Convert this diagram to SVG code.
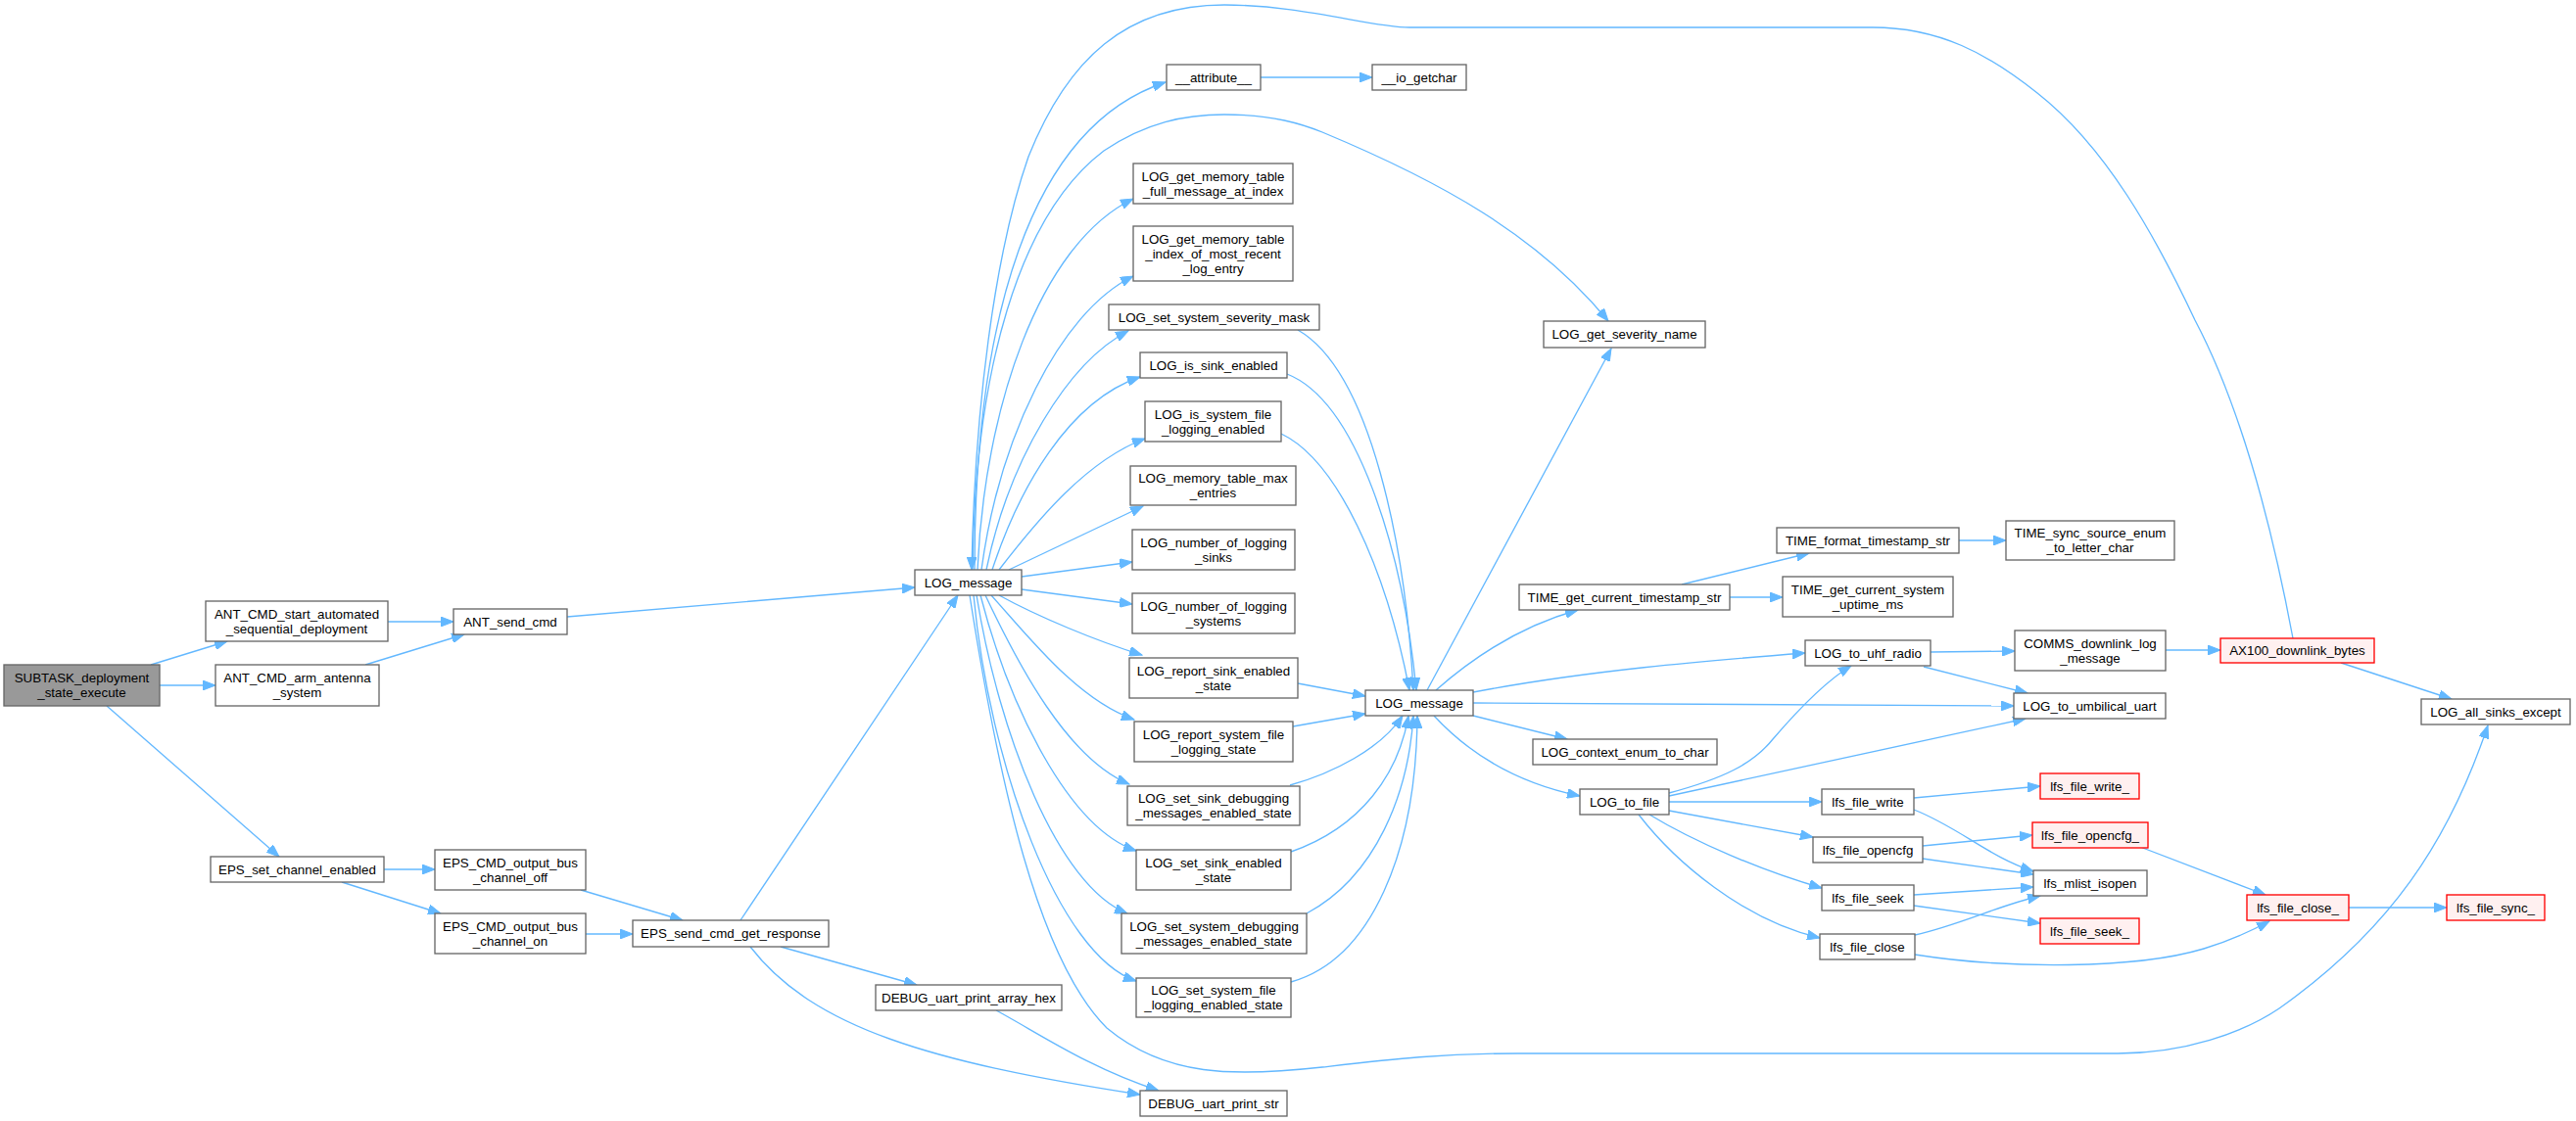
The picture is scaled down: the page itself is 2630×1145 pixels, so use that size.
<svg xmlns="http://www.w3.org/2000/svg" width="2630" height="1145" viewBox="0 0 2630 1145">
<defs>
<style>
.n rect{fill:#ffffff;stroke:#666666;stroke-width:1.33}
.root rect{fill:#999999;stroke:#666666;stroke-width:1.33}
.red rect{fill:#fff0f0;stroke:#ff0000;stroke-width:1.33}
text{font-family:"Liberation Sans",Arial,Helvetica,sans-serif;font-size:13.33px;fill:#000000;text-anchor:middle}
.e path{fill:none;stroke:#63b8ff;stroke-width:1.33;marker-end:url(#ah)}
</style>
<marker id="ah" markerWidth="14" markerHeight="10" refX="13" refY="5" orient="auto" markerUnits="userSpaceOnUse">
<path d="M0,0 L13,5 L0,10 z" fill="#63b8ff" stroke="#63b8ff" stroke-width="1"/>
</marker>
</defs>
<rect x="0" y="0" width="2630" height="1145" fill="#ffffff"/>
<g id="edges" class="e">
<path d="M154,679 L232,655"/>
<path d="M163,700 L220,700"/>
<path d="M109,721 L285,875"/>
<path d="M396,635 L463,635"/>
<path d="M373,679 L474,648"/>
<path d="M579,630 L934,600"/>
<path d="M392,888 L444,888"/>
<path d="M349,901 L450,933"/>
<path d="M593,909 L697,940"/>
<path d="M598,954 L646,954"/>
<path d="M756,940 L978,608"/>
<path d="M797,967 L936,1006"/>
<path d="M766,967 C830,1050 950,1085 1164,1118"/>
<path d="M1017,1032 C1060,1055 1110,1090 1183,1114"/>
<path d="M2341,652 C2320,540 2290,420 2241,327 C2200,240 2150,150 2080,95 C2030,55 1980,28 1912,28 L1439,28 C1400,28 1330,5 1250,5 C1150,5 1090,60 1050,160 C1015,260 995,420 992,582"/>
<path d="M993,582 C995,380 1040,220 1127,154 C1170,125 1210,117 1250,117 C1300,117 1330,127 1350,135 C1470,185 1570,240 1642,328"/>
<path d="M995,582 C995,330 1050,130 1190,84"/>
<path d="M998,582 C1005,420 1060,250 1157,203"/>
<path d="M1002,582 C1020,450 1080,320 1157,282"/>
<path d="M1007,582 C1030,470 1090,370 1152,338"/>
<path d="M1013,582 C1040,500 1090,410 1164,385"/>
<path d="M1020,582 C1060,530 1110,470 1169,448"/>
<path d="M1030,582 L1167,517"/>
<path d="M1043,589 L1156,574"/>
<path d="M1043,602 L1156,617"/>
<path d="M1020,608 C1060,630 1120,655 1166,669"/>
<path d="M1012,608 C1050,650 1100,715 1158,735"/>
<path d="M1006,608 C1040,680 1090,775 1153,801"/>
<path d="M1001,608 C1030,720 1090,845 1160,869"/>
<path d="M997,608 C1020,750 1080,905 1151,933"/>
<path d="M994,608 C1010,780 1080,975 1160,1002"/>
<path d="M990,608 C1020,800 1060,980 1130,1050 C1190,1100 1260,1100 1350,1090 C1420,1082 1470,1076 1550,1076 L2162,1076 C2230,1076 2290,1055 2327,1030 C2440,950 2500,860 2540,741"/>
<path d="M1325,698 L1394,711"/>
<path d="M1320,742 L1394,729"/>
<path d="M1317,802 C1360,790 1410,765 1432,731"/>
<path d="M1318,870 C1390,845 1428,790 1438,731"/>
<path d="M1334,933 C1405,895 1438,810 1443,731"/>
<path d="M1318,1003 C1400,980 1446,870 1447,731"/>
<path d="M1325,337 C1400,380 1435,560 1443,705"/>
<path d="M1314,382 C1385,410 1432,560 1446,705"/>
<path d="M1308,443 C1365,470 1415,580 1439,705"/>
<path d="M1287,79 L1401,79"/>
<path d="M1457,705 L1645,356"/>
<path d="M1466,705 C1500,675 1550,640 1611,623"/>
<path d="M1504,707 C1620,685 1740,675 1843,667"/>
<path d="M1504,718 L2056,721"/>
<path d="M1504,731 L1600,755"/>
<path d="M1464,731 C1500,770 1550,800 1613,813"/>
<path d="M1717,597 L1847,565"/>
<path d="M1766,610 L1820,610"/>
<path d="M2000,552 L2048,552"/>
<path d="M1971,666 L2057,665"/>
<path d="M1964,681 L2070,708"/>
<path d="M1704,810 C1760,795 1790,780 1810,755 C1840,720 1865,695 1890,680"/>
<path d="M1704,813 L2068,734"/>
<path d="M1704,819 L1860,819"/>
<path d="M1704,828 L1851,855"/>
<path d="M1684,832 C1730,860 1800,890 1860,907"/>
<path d="M1673,832 C1710,880 1780,940 1858,958"/>
<path d="M1954,815 L2083,803"/>
<path d="M1954,827 C2000,845 2030,875 2076,890"/>
<path d="M1963,864 L2075,853"/>
<path d="M1963,877 L2076,893"/>
<path d="M1954,914 L2076,906"/>
<path d="M1954,925 L2083,943"/>
<path d="M1955,955 C2000,945 2040,925 2083,915"/>
<path d="M1955,975 C2050,990 2180,990 2250,969 C2280,960 2300,950 2317,941"/>
<path d="M2185,865 L2313,914"/>
<path d="M2398,927 L2498,927"/>
<path d="M2211,664 L2267,664"/>
<path d="M2390,677 L2503,714"/>
</g>
<g id="n_subtask" class="root"><rect x="4" y="679" width="159" height="42"/><text x="83.5" y="697">SUBTASK_deployment</text><text x="83.5" y="712">_state_execute</text></g>
<g id="n_ant_start" class="n"><rect x="210" y="614" width="186" height="41"/><text x="303" y="631.5">ANT_CMD_start_automated</text><text x="303" y="646.5">_sequential_deployment</text></g>
<g id="n_ant_arm" class="n"><rect x="220" y="679" width="167" height="42"/><text x="303.5" y="697">ANT_CMD_arm_antenna</text><text x="303.5" y="712">_system</text></g>
<g id="n_eps_set" class="n"><rect x="215" y="875" width="177" height="26"/><text x="303.5" y="892.5">EPS_set_channel_enabled</text></g>
<g id="n_ant_send" class="n"><rect x="463" y="622" width="116" height="26"/><text x="521" y="639.5">ANT_send_cmd</text></g>
<g id="n_eps_off" class="n"><rect x="444" y="868" width="154" height="41"/><text x="521" y="885.5">EPS_CMD_output_bus</text><text x="521" y="900.5">_channel_off</text></g>
<g id="n_eps_on" class="n"><rect x="444" y="933" width="154" height="41"/><text x="521" y="950.5">EPS_CMD_output_bus</text><text x="521" y="965.5">_channel_on</text></g>
<g id="n_eps_send" class="n"><rect x="646" y="940" width="200" height="27"/><text x="746" y="958">EPS_send_cmd_get_response</text></g>
<g id="n_log_message_l" class="n"><rect x="934" y="582" width="109" height="26"/><text x="988.5" y="599.5">LOG_message</text></g>
<g id="n_debug_hex" class="n"><rect x="894" y="1006" width="190" height="26"/><text x="989" y="1023.5">DEBUG_uart_print_array_hex</text></g>
<g id="n_attribute" class="n"><rect x="1191" y="66" width="96" height="26"/><text x="1239" y="83.5">__attribute__</text></g>
<g id="n_mem_full" class="n"><rect x="1157" y="167" width="163" height="41"/><text x="1238.5" y="184.5">LOG_get_memory_table</text><text x="1238.5" y="199.5">_full_message_at_index</text></g>
<g id="n_mem_index" class="n"><rect x="1157" y="231" width="163" height="56"/><text x="1238.5" y="248.5">LOG_get_memory_table</text><text x="1238.5" y="263.5">_index_of_most_recent</text><text x="1238.5" y="278.5">_log_entry</text></g>
<g id="n_sev_mask" class="n"><rect x="1132" y="311" width="215" height="26"/><text x="1239.5" y="328.5">LOG_set_system_severity_mask</text></g>
<g id="n_is_sink" class="n"><rect x="1164" y="360" width="150" height="26"/><text x="1239" y="377.5">LOG_is_sink_enabled</text></g>
<g id="n_is_sysfile" class="n"><rect x="1169" y="410" width="139" height="41"/><text x="1238.5" y="427.5">LOG_is_system_file</text><text x="1238.5" y="442.5">_logging_enabled</text></g>
<g id="n_mem_max" class="n"><rect x="1154" y="476" width="169" height="40"/><text x="1238.5" y="493">LOG_memory_table_max</text><text x="1238.5" y="508">_entries</text></g>
<g id="n_num_sinks" class="n"><rect x="1156" y="541" width="166" height="41"/><text x="1239" y="558.5">LOG_number_of_logging</text><text x="1239" y="573.5">_sinks</text></g>
<g id="n_num_systems" class="n"><rect x="1156" y="606" width="166" height="41"/><text x="1239" y="623.5">LOG_number_of_logging</text><text x="1239" y="638.5">_systems</text></g>
<g id="n_rep_sink" class="n"><rect x="1153" y="672" width="172" height="41"/><text x="1239" y="689.5">LOG_report_sink_enabled</text><text x="1239" y="704.5">_state</text></g>
<g id="n_rep_sys" class="n"><rect x="1158" y="737" width="162" height="41"/><text x="1239" y="754.5">LOG_report_system_file</text><text x="1239" y="769.5">_logging_state</text></g>
<g id="n_set_sink_dbg" class="n"><rect x="1151" y="803" width="176" height="40"/><text x="1239" y="820">LOG_set_sink_debugging</text><text x="1239" y="835">_messages_enabled_state</text></g>
<g id="n_set_sink_en" class="n"><rect x="1160" y="868" width="158" height="41"/><text x="1239" y="885.5">LOG_set_sink_enabled</text><text x="1239" y="900.5">_state</text></g>
<g id="n_set_sys_dbg" class="n"><rect x="1145" y="933" width="189" height="41"/><text x="1239.5" y="950.5">LOG_set_system_debugging</text><text x="1239.5" y="965.5">_messages_enabled_state</text></g>
<g id="n_set_sys_file" class="n"><rect x="1160" y="999" width="158" height="40"/><text x="1239" y="1016">LOG_set_system_file</text><text x="1239" y="1031">_logging_enabled_state</text></g>
<g id="n_debug_str" class="n"><rect x="1164" y="1114" width="150" height="26"/><text x="1239" y="1131.5">DEBUG_uart_print_str</text></g>
<g id="n_io_getchar" class="n"><rect x="1401" y="66" width="96" height="26"/><text x="1449" y="83.5">__io_getchar</text></g>
<g id="n_log_message_r" class="n"><rect x="1394" y="705" width="110" height="26"/><text x="1449" y="722.5">LOG_message</text></g>
<g id="n_sev_name" class="n"><rect x="1576" y="328" width="165" height="27"/><text x="1658.5" y="346">LOG_get_severity_name</text></g>
<g id="n_time_cur_ts" class="n"><rect x="1551" y="597" width="215" height="26"/><text x="1658.5" y="614.5">TIME_get_current_timestamp_str</text></g>
<g id="n_ctx_enum" class="n"><rect x="1565" y="755" width="188" height="26"/><text x="1659" y="772.5">LOG_context_enum_to_char</text></g>
<g id="n_log_to_file" class="n"><rect x="1613" y="806" width="91" height="26"/><text x="1658.5" y="823.5">LOG_to_file</text></g>
<g id="n_time_fmt" class="n"><rect x="1814" y="539" width="186" height="26"/><text x="1907" y="556.5">TIME_format_timestamp_str</text></g>
<g id="n_time_uptime" class="n"><rect x="1820" y="589" width="174" height="41"/><text x="1907" y="606.5">TIME_get_current_system</text><text x="1907" y="621.5">_uptime_ms</text></g>
<g id="n_uhf" class="n"><rect x="1843" y="654" width="128" height="26"/><text x="1907" y="671.5">LOG_to_uhf_radio</text></g>
<g id="n_lfs_write" class="n"><rect x="1860" y="806" width="94" height="26"/><text x="1907" y="823.5">lfs_file_write</text></g>
<g id="n_lfs_opencfg" class="n"><rect x="1851" y="855" width="112" height="26"/><text x="1907" y="872.5">lfs_file_opencfg</text></g>
<g id="n_lfs_seek" class="n"><rect x="1860" y="904" width="94" height="26"/><text x="1907" y="921.5">lfs_file_seek</text></g>
<g id="n_lfs_close" class="n"><rect x="1858" y="954" width="97" height="26"/><text x="1906.5" y="971.5">lfs_file_close</text></g>
<g id="n_time_sync" class="n"><rect x="2048" y="532" width="172" height="40"/><text x="2134" y="549">TIME_sync_source_enum</text><text x="2134" y="564">_to_letter_char</text></g>
<g id="n_comms" class="n"><rect x="2057" y="644" width="154" height="41"/><text x="2134" y="661.5">COMMS_downlink_log</text><text x="2134" y="676.5">_message</text></g>
<g id="n_umbilical" class="n"><rect x="2056" y="708" width="155" height="26"/><text x="2133.5" y="725.5">LOG_to_umbilical_uart</text></g>
<g id="n_lfs_write_" class="red"><rect x="2083" y="790" width="101" height="26"/><text x="2133.5" y="807.5">lfs_file_write_</text></g>
<g id="n_lfs_opencfg_" class="red"><rect x="2075" y="840" width="118" height="26"/><text x="2134" y="857.5">lfs_file_opencfg_</text></g>
<g id="n_lfs_mlist" class="n"><rect x="2076" y="889" width="116" height="26"/><text x="2134" y="906.5">lfs_mlist_isopen</text></g>
<g id="n_lfs_seek_" class="red"><rect x="2083" y="938" width="101" height="26"/><text x="2133.5" y="955.5">lfs_file_seek_</text></g>
<g id="n_ax100" class="red"><rect x="2267" y="652" width="157" height="25"/><text x="2345.5" y="669">AX100_downlink_bytes</text></g>
<g id="n_lfs_close_" class="red"><rect x="2294" y="914" width="104" height="26"/><text x="2346" y="931.5">lfs_file_close_</text></g>
<g id="n_all_sinks" class="n"><rect x="2472" y="714" width="152" height="26"/><text x="2548" y="731.5">LOG_all_sinks_except</text></g>
<g id="n_lfs_sync_" class="red"><rect x="2498" y="914" width="100" height="26"/><text x="2548" y="931.5">lfs_file_sync_</text></g>
</svg>
